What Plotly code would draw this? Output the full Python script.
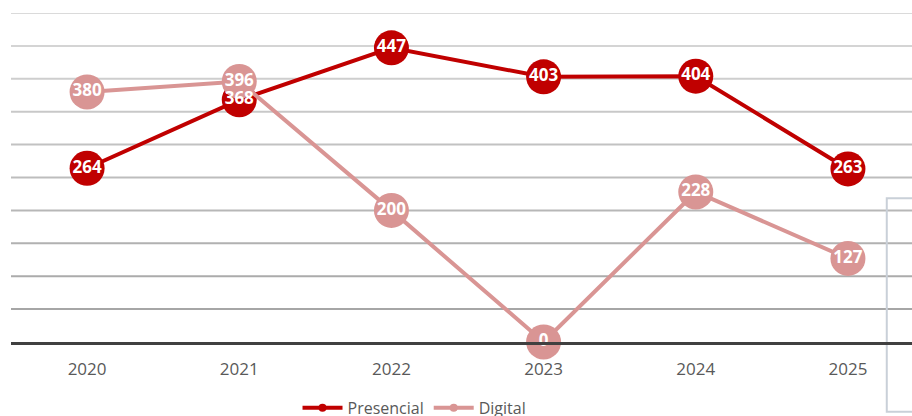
import plotly.graph_objects as go

years = ["2020", "2021", "2022", "2023", "2024", "2025"]
presencial = [264, 368, 447, 403, 404, 263]
digital = [380, 396, 200, 0, 228, 127]
grid_values = [50, 100, 150, 200, 250, 300, 350, 400, 450, 500]

RED = "#C00000"
PINK = "#D99594"
FONT = "Open Sans, Liberation Sans, sans-serif"

fig = go.Figure()

# series lines with round markers (Digital drawn above Presencial)
for name, vals, color in [("Presencial", presencial, RED), ("Digital", digital, PINK)]:
    fig.add_trace(go.Scatter(
        x=years, y=vals, mode="lines+markers", name=name, showlegend=False,
        line=dict(color=color, width=4),
        marker=dict(color=color, size=35),
        cliponaxis=False, hoverinfo="skip",
    ))

# value labels on top of every marker
for vals in [presencial, digital]:
    fig.add_trace(go.Scatter(
        x=years, y=vals, mode="text", text=[str(v) for v in vals],
        textposition="middle center", showlegend=False, cliponaxis=False,
        textfont=dict(color="white", size=17, family=FONT, weight="bold"),
        hoverinfo="skip",
    ))

# compact legend entries
for name, color in [("Presencial", RED), ("Digital", PINK)]:
    fig.add_trace(go.Scatter(
        x=[None], y=[None], mode="lines+markers", name=name,
        line=dict(color=color, width=4), marker=dict(color=color, size=8),
    ))

# horizontal gridlines, shading darker toward the baseline
shapes = []
n = len(grid_values)
for i, gv in enumerate(grid_values):
    t = i / (n - 1)
    c = int(0xA6 + (0xDA - 0xA6) * t)
    shapes.append(dict(type="line", xref="paper", yref="y", x0=0, x1=1.02, y0=gv, y1=gv,
                       line=dict(color=f"rgb({c},{c},{c})", width=2), layer="below"))
# faint frame of the seal at the right edge
shapes.append(dict(type="rect", xref="paper", yref="paper", x0=0.972, x1=1.03, y0=-0.212, y1=0.437,
                   line=dict(color="#c9d0d8", width=2), fillcolor="rgba(0,0,0,0)", layer="below"))

fig.update_layout(
    width=912, height=416,
    margin=dict(l=11, r=0, t=13, b=74, autoexpand=False),
    paper_bgcolor="white", plot_bgcolor="white",
    font=dict(family=FONT, color="#595959"),
    shapes=shapes,
    showlegend=True,
    legend=dict(orientation="h", x=0.318, xanchor="left", y=-0.2, yanchor="middle",
                font=dict(size=16, color="#595959", family=FONT),
                itemwidth=40, tracegroupgap=0, bgcolor="rgba(0,0,0,0)"),
    xaxis=dict(range=[-0.5, 5.421], showgrid=False, zeroline=False,
               showline=True, linecolor="#404040", linewidth=3,
               tickfont=dict(size=17, color="#595959", family=FONT),
               ticks="", ticklabelstandoff=10),
    yaxis=dict(range=[0, 500], showgrid=False, zeroline=False, showticklabels=False,
               showline=False),
)

fig.write_html("out.html")
